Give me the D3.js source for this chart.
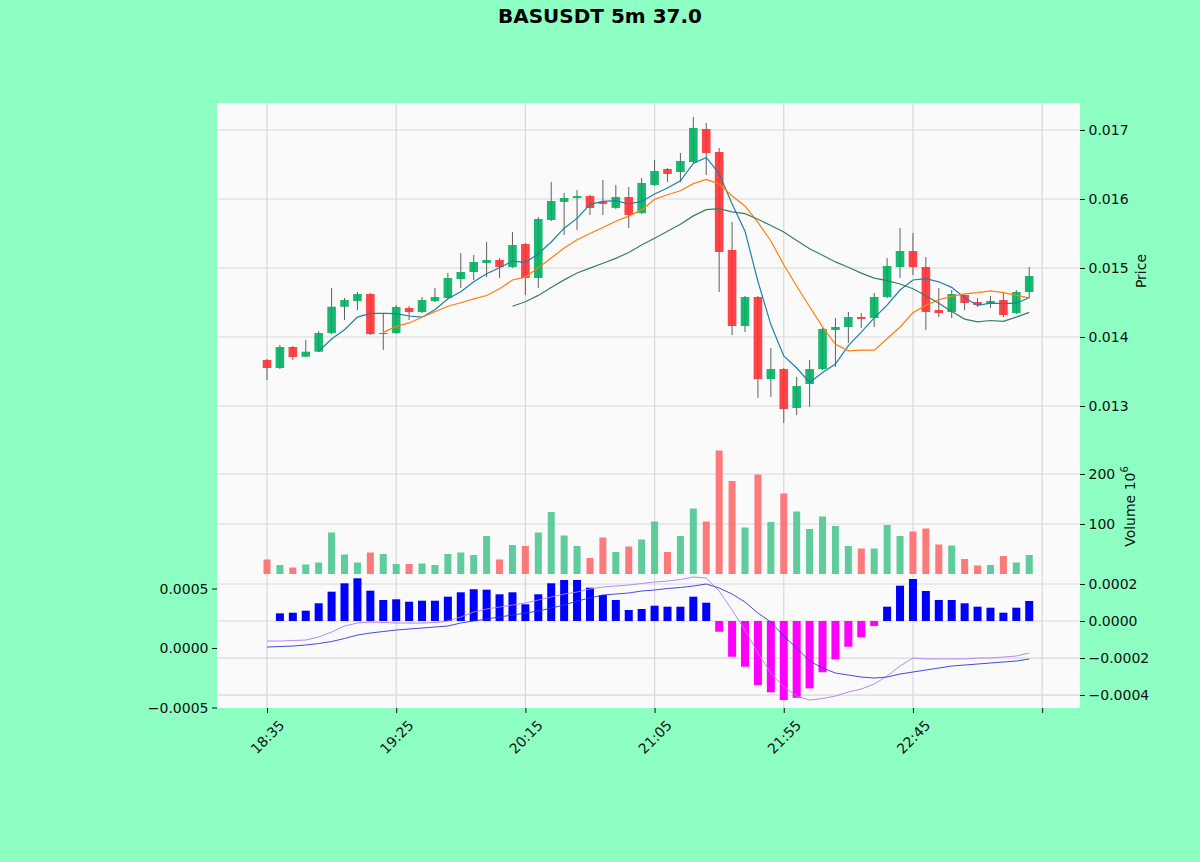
<!DOCTYPE html>
<html>
<head>
<meta charset="utf-8">
<script src="https://cdn.jsdelivr.net/npm/d3@7"></script>
<style>
  body { margin: 0; background: #8effc3; }
  svg text { font-family: "DejaVu Sans", sans-serif; }
</style>
</head>
<body>
<div id="chart"></div>
<script>
// 5m candles, BASUSDT
const times = ["18:35","18:40","18:45","18:50","18:55","19:00","19:05","19:10","19:15","19:20",
  "19:25","19:30","19:35","19:40","19:45","19:50","19:55","20:00","20:05","20:10",
  "20:15","20:20","20:25","20:30","20:35","20:40","20:45","20:50","20:55","21:00",
  "21:05","21:10","21:15","21:20","21:25","21:30","21:35","21:40","21:45","21:50",
  "21:55","22:00","22:05","22:10","22:15","22:20","22:25","22:30","22:35","22:40",
  "22:45","22:50","22:55","23:00","23:05","23:10","23:15","23:20","23:25","23:30"];

const opens = [0.013667,0.013551,0.013855,0.013714,0.013787,0.014058,0.014439,0.014522,0.014623,0.014043,
  0.014058,0.01442,0.014362,0.014522,0.014565,0.014841,0.014942,0.015072,0.015116,0.015014,
  0.015348,0.014855,0.015696,0.015957,0.016014,0.016043,0.015957,0.01587,0.016029,0.015797,
  0.016203,0.016435,0.016391,0.016536,0.017014,0.016681,0.015261,0.014159,0.01458,0.013391,
  0.013536,0.012971,0.013319,0.013536,0.014101,0.014145,0.01429,0.014275,0.01458,0.015014,
  0.015246,0.015014,0.014391,0.014362,0.014609,0.014507,0.014493,0.014536,0.014348,0.014652];
const highs = [0.013681,0.013884,0.01387,0.013957,0.014087,0.01471,0.014565,0.014652,0.014638,0.014348,
  0.014464,0.014449,0.01458,0.01471,0.014928,0.015217,0.015188,0.015377,0.015145,0.015522,
  0.015362,0.015739,0.016246,0.016087,0.01613,0.016058,0.016275,0.016203,0.016174,0.016304,
  0.016565,0.016449,0.016667,0.017188,0.017101,0.016739,0.015667,0.014594,0.014594,0.013841,
  0.013551,0.01342,0.013667,0.01413,0.014275,0.014362,0.014348,0.014638,0.015145,0.01558,
  0.015507,0.015159,0.01471,0.014681,0.014623,0.014565,0.014594,0.014638,0.014681,0.015014];
const lows = [0.013377,0.013536,0.013667,0.01371,0.013783,0.014043,0.014246,0.014391,0.014029,0.013812,
  0.014043,0.014246,0.014348,0.014507,0.014551,0.01471,0.014826,0.01487,0.014855,0.015,
  0.014609,0.01471,0.015681,0.015478,0.015551,0.015768,0.015768,0.015855,0.01558,0.015783,
  0.016188,0.016246,0.016246,0.016522,0.016348,0.014652,0.014029,0.014072,0.013116,0.01313,
  0.012754,0.01287,0.012986,0.013522,0.013565,0.013913,0.01413,0.014145,0.014565,0.014855,
  0.014899,0.014101,0.01429,0.014275,0.014391,0.014435,0.01442,0.01429,0.014333,0.014565];
const closes = [0.013551,0.013855,0.01371,0.013787,0.014058,0.014439,0.014536,0.014623,0.014043,0.014058,
  0.014435,0.014362,0.014536,0.01458,0.014855,0.014942,0.015087,0.015116,0.015014,0.015333,
  0.014855,0.01571,0.015971,0.016014,0.016043,0.01587,0.015928,0.016029,0.015768,0.016232,
  0.016406,0.016362,0.016551,0.017029,0.016667,0.015232,0.014159,0.01458,0.013391,0.013536,
  0.012957,0.01329,0.013536,0.014116,0.014145,0.01429,0.014261,0.01458,0.015029,0.015246,
  0.015014,0.014362,0.014348,0.014623,0.014493,0.014464,0.014522,0.014319,0.014652,0.014884];

// volume, in millions
const volumes = [29,18,13,19,23,83,39,23,43,40, 20,20,21,18,40,43,38,76,29,58,
  56,83,124,77,56,32,73,44,55,69, 105,44,76,131,105,247,186,93,199,104,
  161,125,90,115,96,56,51,51,98,76, 85,91,59,57,30,17,18,36,23,38];

// moving averages
const ma5 = [null,null,null,null,0.013793,0.01397,0.014106,0.014288,0.014341,0.014341,
  0.01434,0.014304,0.014287,0.014394,0.014554,0.014655,0.0148,0.014916,0.015003,0.015099,
  0.015081,0.015206,0.015377,0.015577,0.015719,0.015922,0.015965,0.015977,0.015928,0.015965,
  0.016072,0.016159,0.016264,0.016516,0.016603,0.016368,0.015928,0.015533,0.014806,0.01418,
  0.013725,0.013551,0.013342,0.013487,0.013609,0.013875,0.01407,0.014278,0.014461,0.014681,
  0.014826,0.014846,0.0148,0.014719,0.014568,0.014458,0.01449,0.014484,0.01449,0.014568];
const ma10 = [null,null,null,null,null,null,null,null,null,0.014067,
  0.014154,0.014204,0.014287,0.014367,0.014446,0.014497,0.014552,0.014601,0.014699,0.014826,
  0.014868,0.015003,0.015146,0.01529,0.015409,0.015501,0.015586,0.015677,0.015752,0.015842,
  0.015997,0.016062,0.01612,0.016222,0.016284,0.01622,0.016043,0.015899,0.015661,0.015391,
  0.015046,0.014739,0.014438,0.014146,0.013894,0.0138,0.01381,0.01381,0.013974,0.014145,
  0.014351,0.014458,0.014539,0.01459,0.014625,0.014642,0.014668,0.014642,0.014604,0.014568];
const ma20 = [null,null,null,null,null,null,null,null,null,null,
  null,null,null,null,null,null,null,null,null,0.014446,
  0.01451,0.014603,0.014716,0.014828,0.014928,0.014999,0.015068,0.015139,0.015225,0.015333,
  0.015432,0.015532,0.015633,0.015755,0.015846,0.015861,0.015814,0.015787,0.015706,0.015616,
  0.015522,0.0154,0.015278,0.015184,0.015088,0.01501,0.014926,0.014854,0.014817,0.014768,
  0.014699,0.014599,0.014488,0.014368,0.014259,0.01422,0.014239,0.014226,0.014288,0.014357];

// MACD panel
const macdHist = [0,0.0000416,0.0000449,0.0000557,0.0000957,0.0001584,0.0002038,0.0002308,0.0001638,0.0001135,
  0.0001173,0.0001043,0.0001097,0.0001097,0.0001314,0.0001551,0.0001714,0.0001692,0.0001443,0.0001551,
  0.0000903,0.0001443,0.0002038,0.0002216,0.0002216,0.00018,0.0001405,0.0001135,0.0000595,0.0000649,
  0.0000827,0.0000773,0.0000773,0.0001314,0.0000989,-0.0000578,-0.000193,-0.000247,-0.000346,-0.000385,
  -0.000427,-0.000415,-0.000364,-0.000277,-0.000207,-0.000139,-0.0000881,-0.000027,0.0000773,0.0001908,
  0.000227,0.0001622,0.0001135,0.0001135,0.0000957,0.0000773,0.0000719,0.0000449,0.0000719,0.0001081];
const macdLine = [0.0000588,0.0000588,0.000063,0.0000672,0.0000924,0.0001345,0.0001849,0.0002101,0.0002185,0.0002143,
  0.0002101,0.0002101,0.0002101,0.0002143,0.0002269,0.0002605,0.0003025,0.0003277,0.0003445,0.0003613,
  0.0003781,0.0004033,0.0004286,0.0004538,0.0004706,0.0004958,0.0005126,0.000521,0.0005294,0.000542,
  0.0005546,0.000563,0.0005756,0.0005966,0.0005882,0.000479,0.0003193,0.0001513,-0.000042,-0.0002101,
  -0.0003277,-0.0004033,-0.000437,-0.0004244,-0.0004033,-0.0003697,-0.0003445,-0.0003025,-0.0002353,-0.0001513,
  -0.000084,-0.0000924,-0.0000924,-0.0000924,-0.0000924,-0.000084,-0.000084,-0.0000756,-0.0000672,-0.000042];
const signalLine = [0.0000084,0.0000126,0.0000168,0.0000252,0.0000378,0.0000546,0.0000798,0.0001092,0.000126,0.0001387,
  0.0001513,0.0001597,0.0001681,0.0001765,0.0001849,0.0002101,0.0002269,0.0002437,0.0002605,0.0002773,
  0.0002941,0.0003109,0.0003361,0.0003613,0.0003949,0.0004202,0.0004454,0.0004538,0.0004622,0.000479,
  0.0004874,0.0005,0.0005084,0.000521,0.0005378,0.0005042,0.0004538,0.0003865,0.0002941,0.0002185,
  0.0001008,0,-0.0001092,-0.0001681,-0.0002101,-0.0002269,-0.0002437,-0.0002521,-0.0002437,-0.0002185,
  -0.0002017,-0.0001849,-0.0001681,-0.0001513,-0.0001429,-0.0001345,-0.000126,-0.0001176,-0.0001092,-0.0000924];

// tick values
const xTickIdx = [0, 10, 20, 30, 40, 50, 60];
const priceTicks = [0.013, 0.014, 0.015, 0.016, 0.017];
const volumeTicks = [100, 200];
const histTicks = [0.0002, 0, -0.0002, -0.0004];
const lineTicks = [0.0005, 0, -0.0005];

// layout
const width = 1200, height = 862;
const plotLeft = 217, plotRight = 1080;
const priceTop = 103, priceBottom = 439, volBottom = 574, macdBottom = 708;
const upColor = "#00b060", downColor = "#fe3032";
const volUp = "#4dc790", volDown = "#fd6b6c";
const gridColor = "#d8d8d8", textColor = "#101010";

const svg = d3.select("#chart")
  .append("svg")
  .attr("width", width)
  .attr("height", height);

// scales
const x = d3.scaleLinear().domain([-3.87, 62.93]).range([plotLeft, plotRight]);
const yPrice = d3.scaleLinear().domain([0.012522, 0.017391]).range([priceBottom, priceTop]);
const yVol = d3.scaleLinear().domain([0, 270]).range([volBottom, priceBottom]);
const yHist = d3.scaleLinear().domain([-0.00047, 0.000254]).range([macdBottom, volBottom]);
const yLine = d3.scaleLinear().domain([-0.000504, 0.000622]).range([macdBottom, volBottom]);

// panel background
svg.append("rect")
  .attr("x", plotLeft).attr("y", priceTop)
  .attr("width", plotRight - plotLeft).attr("height", macdBottom - priceTop)
  .attr("fill", "#fafafa");

// grid
const grid = svg.append("g").attr("stroke", gridColor).attr("stroke-width", 1.2);
grid.selectAll(".vg").data(xTickIdx).join("line")
  .attr("x1", d => x(d)).attr("x2", d => x(d))
  .attr("y1", priceTop).attr("y2", macdBottom);
const hLines = [
  ...priceTicks.map(v => yPrice(v)),
  ...volumeTicks.map(v => yVol(v)),
  ...histTicks.map(v => yHist(v))
];
grid.selectAll(".hg").data(hLines).join("line")
  .attr("x1", plotLeft).attr("x2", plotRight)
  .attr("y1", d => d).attr("y2", d => d);

const idx = d3.range(closes.length);
const isUp = i => closes[i] >= opens[i];

// volume bars
svg.append("g").selectAll("rect").data(idx).join("rect")
  .attr("x", i => x(i) - 3.5)
  .attr("width", 7)
  .attr("y", i => yVol(volumes[i]))
  .attr("height", i => yVol(0) - yVol(volumes[i]))
  .attr("fill", i => isUp(i) ? volUp : volDown)
  .attr("opacity", 0.9);

// candles
const candles = svg.append("g").selectAll("g").data(idx).join("g");
candles.append("line")
  .attr("x1", i => x(i)).attr("x2", i => x(i))
  .attr("y1", i => yPrice(highs[i])).attr("y2", i => yPrice(lows[i]))
  .attr("stroke", "#606060").attr("stroke-width", 1);
candles.append("rect")
  .attr("x", i => x(i) - 4.3)
  .attr("width", 8.6)
  .attr("y", i => yPrice(Math.max(opens[i], closes[i])))
  .attr("height", i => Math.max(1, Math.abs(yPrice(opens[i]) - yPrice(closes[i]))))
  .attr("fill", i => isUp(i) ? upColor : downColor)
  .attr("opacity", 0.9);

// moving averages
const maLine = d3.line()
  .defined(d => d[1] != null)
  .x(d => x(d[0]))
  .y(d => yPrice(d[1]));
[[ma5, "#1f7fa8"], [ma10, "#ff7f0e"], [ma20, "#3b7d6a"]].forEach(([series, color]) => {
  svg.append("path")
    .datum(series.map((v, i) => [i, v]))
    .attr("fill", "none")
    .attr("stroke", color)
    .attr("stroke-width", 1.2)
    .attr("d", maLine);
});

// MACD histogram
svg.append("g").selectAll("rect").data(idx.filter(i => macdHist[i] !== 0)).join("rect")
  .attr("x", i => x(i) - 4)
  .attr("width", 8)
  .attr("y", i => Math.min(yHist(macdHist[i]), yHist(0)))
  .attr("height", i => Math.abs(yHist(macdHist[i]) - yHist(0)))
  .attr("fill", i => macdHist[i] >= 0 ? "#0000ff" : "#ff00ff");

// MACD + signal lines
const mLine = d3.line().x(d => x(d[0])).y(d => yLine(d[1]));
[[macdLine, "#b27cf0"], [signalLine, "#3434d6"]].forEach(([series, color]) => {
  svg.append("path")
    .datum(series.map((v, i) => [i, v]))
    .attr("fill", "none")
    .attr("stroke", color)
    .attr("stroke-width", 0.9)
    .attr("d", mLine);
});

// axes
function styleAxis(g) {
  g.select(".domain").remove();
  g.attr("font-family", "DejaVu Sans").attr("font-size", 14);
  g.selectAll(".tick line").attr("stroke", textColor);
  g.selectAll(".tick text").attr("fill", textColor);
}

svg.append("g")
  .attr("transform", `translate(${plotRight},0)`)
  .call(d3.axisRight(yPrice).tickValues(priceTicks).tickFormat(d3.format(".3f")).tickSize(5).tickPadding(3.5))
  .call(styleAxis);

svg.append("g")
  .attr("transform", `translate(${plotRight},0)`)
  .call(d3.axisRight(yVol).tickValues(volumeTicks).tickFormat(d3.format("d")).tickSize(5).tickPadding(3.5))
  .call(styleAxis);

svg.append("g")
  .attr("transform", `translate(${plotRight},0)`)
  .call(d3.axisRight(yHist).tickValues(histTicks).tickFormat(d3.format(".4f")).tickSize(5).tickPadding(3.5))
  .call(styleAxis);

svg.append("g")
  .attr("transform", `translate(${plotLeft},0)`)
  .call(d3.axisLeft(yLine).tickValues(lineTicks).tickFormat(d3.format(".4f")).tickSize(5).tickPadding(3.5))
  .call(styleAxis);

svg.append("g")
  .attr("transform", `translate(0,${macdBottom})`)
  .call(d3.axisBottom(x).tickValues(xTickIdx).tickFormat(i => times[i] || "").tickSize(5))
  .call(styleAxis)
  .call(g => g.selectAll(".tick text")
    .attr("y", 0).attr("dy", null)
    .attr("text-anchor", "middle")
    .attr("dominant-baseline", "central")
    .attr("transform", "translate(0,29) rotate(-45)"));

// axis labels
svg.append("text")
  .attr("transform", `translate(1141,${(priceTop + priceBottom) / 2}) rotate(-90)`)
  .attr("text-anchor", "middle")
  .attr("dominant-baseline", "central")
  .attr("font-size", 14)
  .attr("fill", textColor)
  .text("Price");

const volLabel = svg.append("text")
  .attr("transform", `translate(1130,${(priceBottom + volBottom) / 2}) rotate(-90)`)
  .attr("text-anchor", "middle")
  .attr("dominant-baseline", "central")
  .attr("font-size", 14)
  .attr("fill", textColor);
volLabel.append("tspan").text("Volume  10");
volLabel.append("tspan").attr("font-size", 10).attr("dy", -6).text("6");

// title
svg.append("text")
  .attr("x", width / 2)
  .attr("y", 23)
  .attr("text-anchor", "middle")
  .attr("font-size", 20)
  .attr("font-weight", "bold")
  .attr("fill", "#000")
  .text("BASUSDT 5m 37.0");
</script>
</body>
</html>
